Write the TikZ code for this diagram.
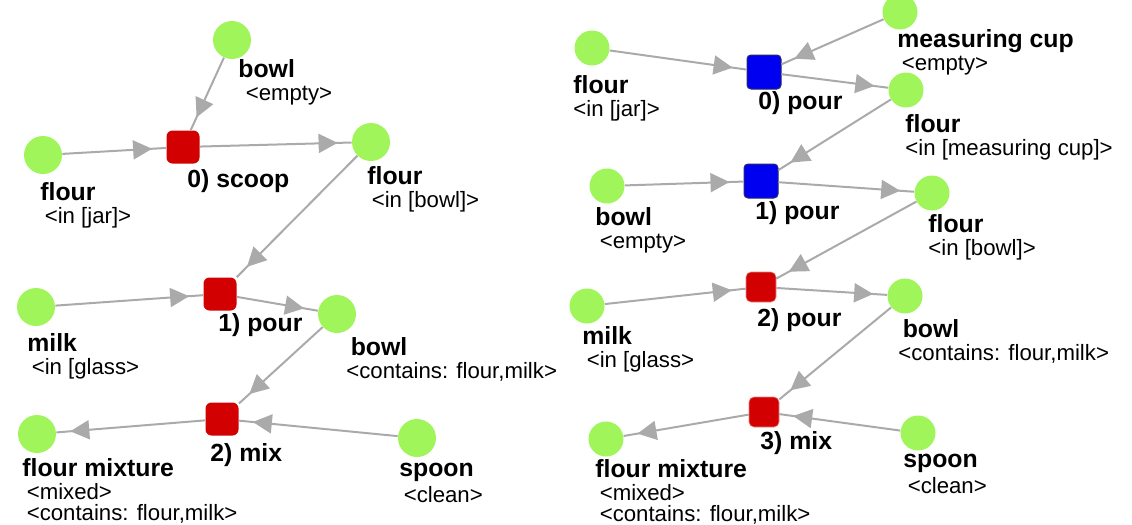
\documentclass[tikz,border=0pt]{standalone}
\usepackage{fontspec}
\setmainfont{Liberation Sans}
\usetikzlibrary{arrows.meta,decorations.markings}

\definecolor{objgreen}{RGB}{160,245,90}
\definecolor{stepred}{RGB}{210,0,0}
\definecolor{stepblue}{RGB}{0,0,240}
\definecolor{flowgray}{RGB}{170,170,170}

\newcommand\objname[1]{\rule{0pt}{9pt}{\fontsize{12.4}{12}\selectfont\bfseries #1}}
\newcommand\objstate{\hspace*{2.2pt}}

\tikzset{
  obj/.style={circle, fill=objgreen, minimum size=19pt, inner sep=0pt},
  smallobj/.style={obj, minimum size=17.5pt},
  redstep/.style={rectangle, rounded corners=3pt, fill=stepred, minimum size=16.5pt, inner sep=0pt},
  smallred/.style={redstep, rounded corners=2.5pt, minimum size=15pt, draw={rgb,255:red,235;green,130;blue,130}, line width=0.3pt},
  bluestep/.style={rectangle, rounded corners=2pt, fill=stepblue, minimum size=17pt, inner sep=0pt, draw={rgb,255:red,40;green,40;blue,110}, line width=0.5pt},
  objtext/.style={anchor=north west, inner sep=0pt, align=left, font=\fontsize{11.1}{10.5}\selectfont},
  steptext/.style={anchor=base west, inner sep=0pt, font=\fontsize{12.4}{12}\selectfont\bfseries},
  flow/.style={draw=flowgray, line width=1pt, postaction={decorate},
    decoration={markings, mark=at position -7pt with {\arrow[flowgray]{Triangle[length=9.5pt,width=9.5pt]}}}},
}

\begin{document}
\begin{tikzpicture}[x=0.5pt,y=-0.5pt]
\useasboundingbox (0,0) rectangle (1132,525);

% left graph
\node[obj] (lbowl) at (232,40) {};
\node[obj] (lflour) at (43,155) {};
\node[obj] (lflourb) at (371,142) {};
\node[obj] (lmilk) at (36,307) {};
\node[obj] (lbowlc) at (337,314) {};
\node[obj] (lmixture) at (37,434) {};
\node[obj] (lspoon) at (417,438) {};
\node[redstep] (lscoop) at (183,147) {};
\node[redstep] (lpour) at (220,294) {};
\node[redstep] (lmix) at (222,419) {};

\node[objtext] (lbowl-t) at (238,59) {\objname{bowl}\\[1.2pt]\objstate\hspace*{1.5pt}<empty>};
\node[objtext] (lflour-t) at (40,182) {\objname{flour}\\[1.2pt]\objstate<in [jar]>};
\node[objtext] (lflourb-t) at (367,166) {\objname{flour}\\[1.2pt]\objstate<in [bowl]>};
\node[objtext] (lmilk-t) at (27,333) {\objname{milk}\\[1.2pt]\objstate<in [glass>};
\node[objtext] (lbowlc-t) at (346,337) {\objstate\objname{bowl}\\[1.2pt]<contains: flour,milk>};
\node[objtext] (lmixture-t) at (22,458) {\objname{flour mixture}\\[1.2pt]\objstate<mixed>\\\objstate<contains: flour,milk>};
\node[objtext] (lspoon-t) at (399,458) {\objname{spoon}\\[1.2pt]\objstate<clean>};
\node[steptext] (lscoop-t) at (187,187) {0) scoop};
\node[steptext] (lpour-t) at (218,331) {1) pour};
\node[steptext] (lmix-t) at (210,461) {2) mix};

% right graph
\node[smallobj] (rflour) at (592,48) {};
\node[smallobj] (rcup) at (900,12) {};
\node[smallobj] (rflourc) at (906,90) {};
\node[smallobj] (rbowl) at (607,186) {};
\node[smallobj] (rflourb) at (932,193) {};
\node[smallobj] (rmilk) at (587,306) {};
\node[smallobj] (rbowlc) at (905,296) {};
\node[smallobj] (rmixture) at (606,439) {};
\node[smallobj] (rspoon) at (918,433) {};
\node[bluestep] (rpour0) at (764,72) {};
\node[bluestep] (rpour1) at (761,181) {};
\node[smallred] (rpour2) at (761,287) {};
\node[smallred] (rmix) at (764,412) {};

\node[objtext] (rcup-t) at (897,29) {\objname{measuring cup}\\[1.2pt]\objstate<empty>};
\node[objtext] (rflour-t) at (573,75) {\objname{flour}\\[1.2pt]<in [jar]>};
\node[objtext] (rflourc-t) at (905,114) {\objname{flour}\\[1.2pt]<in [measuring cup]>};
\node[objtext] (rbowl-t) at (595,207) {\objname{bowl}\\[1.2pt]\objstate<empty>};
\node[objtext] (rflourb-t) at (928,214) {\objname{flour}\\[1.2pt]<in [bowl]>};
\node[objtext] (rmilk-t) at (582,326) {\objname{milk}\\[1.2pt]\objstate<in [glass>};
\node[objtext] (rbowlc-t) at (898,319) {\objstate\objname{bowl}\\[1.2pt]<contains: flour,milk>};
\node[objtext] (rmixture-t) at (595,459) {\objname{flour mixture}\\[1.2pt]\objstate<mixed>\\\objstate<contains: flour,milk>};
\node[objtext] (rspoon-t) at (903,449) {\objname{spoon}\\[1.2pt]\objstate<clean>};
\node[steptext] (rpour0-t) at (758,109) {0) pour};
\node[steptext] (rpour1-t) at (755,219) {1) pour};
\node[steptext] (rpour2-t) at (757,326) {2) pour};
\node[steptext] (rmix-t) at (760,449) {3) mix};

% flows
\foreach \a/\b in {lflour/lscoop, lbowl/lscoop, lscoop/lflourb, lflourb/lpour,
  lmilk/lpour, lpour/lbowlc, lbowlc/lmix, lspoon/lmix, lmix/lmixture,
  rflour/rpour0, rcup/rpour0, rpour0/rflourc, rflourc/rpour1, rbowl/rpour1,
  rpour1/rflourb, rflourb/rpour2, rmilk/rpour2, rpour2/rbowlc, rbowlc/rmix,
  rspoon/rmix, rmix/rmixture}
  \draw[flow] (\a) -- (\b);
\end{tikzpicture}
\end{document}
